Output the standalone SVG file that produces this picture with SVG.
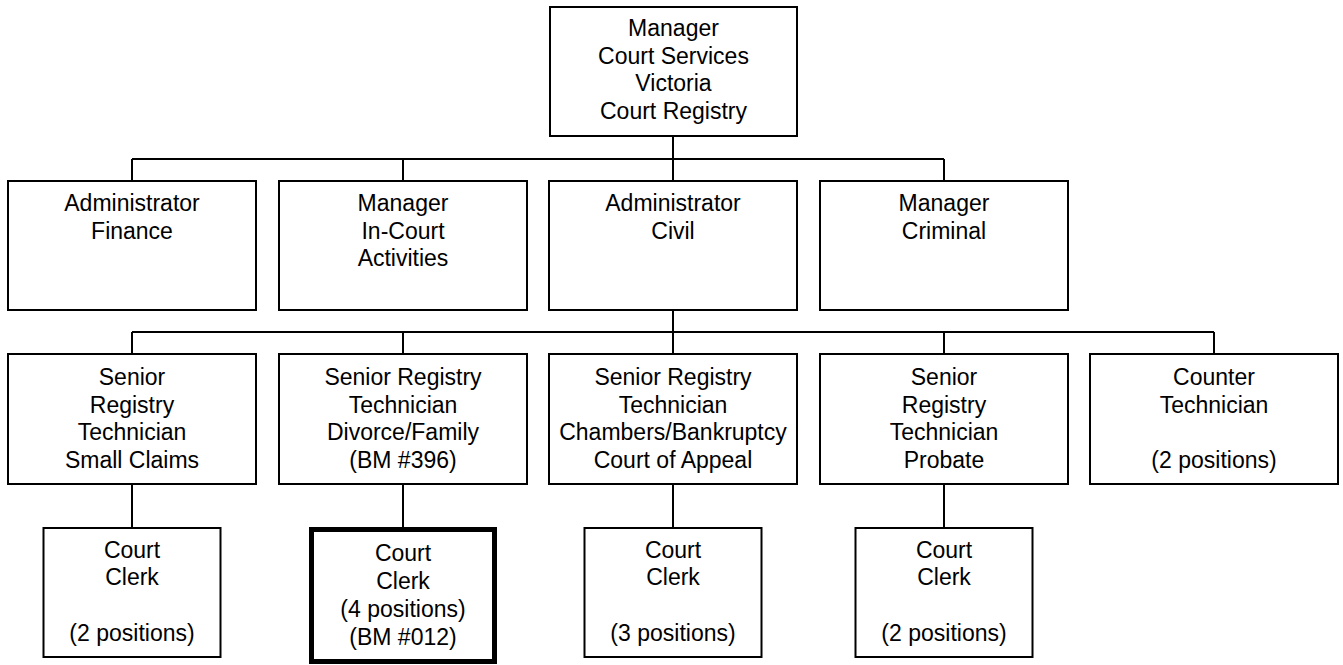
<svg xmlns="http://www.w3.org/2000/svg" width="1343" height="665" viewBox="0 0 1343 665">
  <style>
    .box { fill: #ffffff; stroke: #000000; stroke-width: 2; }
    .bold { fill: #ffffff; stroke: #000000; stroke-width: 5; }
    .lbl { font-family: "Liberation Sans", Arial, sans-serif; font-size: 23px; fill: #000000; text-anchor: middle; }
    .wire { fill: none; stroke: #000000; stroke-width: 2; }
  </style>
  <rect width="1343" height="665" fill="#ffffff"/>

  <!-- reporting lines -->
  <g id="connectors">
    <path class="wire" d="M673 136V159M132 159H944M132 159V181M403 159V181M673 159V181M944 159V181"/>
    <path class="wire" d="M673 310V332M132 332H1214M132 332V354M403 332V354M673 332V354M944 332V354M1214 332V354"/>
    <path class="wire" d="M132 484V528M403 484V528M673 484V528M944 484V528"/>
  </g>

  <!-- top -->
  <g id="manager-court-services">
    <rect class="box" x="550" y="7" width="247" height="129"/>
    <text class="lbl" x="673.5" y="36">Manager</text>
    <text class="lbl" x="673.5" y="63.7">Court Services</text>
    <text class="lbl" x="673.5" y="91.4">Victoria</text>
    <text class="lbl" x="673.5" y="119">Court Registry</text>
  </g>

  <!-- second tier -->
  <g id="administrator-finance">
    <rect class="box" x="8" y="181" width="248" height="129"/>
    <text class="lbl" x="132" y="211">Administrator</text>
    <text class="lbl" x="132" y="238.7">Finance</text>
  </g>
  <g id="manager-in-court">
    <rect class="box" x="279" y="181" width="248" height="129"/>
    <text class="lbl" x="403" y="211">Manager</text>
    <text class="lbl" x="403" y="238.7">In-Court</text>
    <text class="lbl" x="403" y="266.4">Activities</text>
  </g>
  <g id="administrator-civil">
    <rect class="box" x="549" y="181" width="248" height="129"/>
    <text class="lbl" x="673" y="211">Administrator</text>
    <text class="lbl" x="673" y="238.7">Civil</text>
  </g>
  <g id="manager-criminal">
    <rect class="box" x="820" y="181" width="248" height="129"/>
    <text class="lbl" x="944" y="211">Manager</text>
    <text class="lbl" x="944" y="238.7">Criminal</text>
  </g>

  <!-- third tier -->
  <g id="srt-small-claims">
    <rect class="box" x="8" y="354" width="248" height="130"/>
    <text class="lbl" x="132" y="385">Senior</text>
    <text class="lbl" x="132" y="412.7">Registry</text>
    <text class="lbl" x="132" y="440.4">Technician</text>
    <text class="lbl" x="132" y="468">Small Claims</text>
  </g>
  <g id="srt-divorce-family">
    <rect class="box" x="279" y="354" width="248" height="130"/>
    <text class="lbl" x="403" y="385">Senior Registry</text>
    <text class="lbl" x="403" y="412.7">Technician</text>
    <text class="lbl" x="403" y="440.4">Divorce/Family</text>
    <text class="lbl" x="403" y="468">(BM #396)</text>
  </g>
  <g id="srt-chambers">
    <rect class="box" x="549" y="354" width="248" height="130"/>
    <text class="lbl" x="673" y="385">Senior Registry</text>
    <text class="lbl" x="673" y="412.7">Technician</text>
    <text class="lbl" x="673" y="440.4">Chambers/Bankruptcy</text>
    <text class="lbl" x="673" y="468">Court of Appeal</text>
  </g>
  <g id="srt-probate">
    <rect class="box" x="820" y="354" width="248" height="130"/>
    <text class="lbl" x="944" y="385">Senior</text>
    <text class="lbl" x="944" y="412.7">Registry</text>
    <text class="lbl" x="944" y="440.4">Technician</text>
    <text class="lbl" x="944" y="468">Probate</text>
  </g>
  <g id="counter-technician">
    <rect class="box" x="1090" y="354" width="248" height="130"/>
    <text class="lbl" x="1214" y="385">Counter</text>
    <text class="lbl" x="1214" y="412.7">Technician</text>
    <text class="lbl" x="1214" y="468">(2 positions)</text>
  </g>

  <!-- clerks -->
  <g id="clerk-small-claims">
    <rect class="box" x="43.5" y="528" width="177" height="129"/>
    <text class="lbl" x="132" y="557.7">Court</text>
    <text class="lbl" x="132" y="585.4">Clerk</text>
    <text class="lbl" x="132" y="640.7">(2 positions)</text>
  </g>
  <g id="clerk-divorce-family">
    <rect class="bold" x="311.5" y="529.5" width="183" height="132"/>
    <text class="lbl" x="403" y="561">Court</text>
    <text class="lbl" x="403" y="589">Clerk</text>
    <text class="lbl" x="403" y="617">(4 positions)</text>
    <text class="lbl" x="403" y="645">(BM #012)</text>
  </g>
  <g id="clerk-chambers">
    <rect class="box" x="584.5" y="528" width="177" height="129"/>
    <text class="lbl" x="673" y="557.7">Court</text>
    <text class="lbl" x="673" y="585.4">Clerk</text>
    <text class="lbl" x="673" y="640.7">(3 positions)</text>
  </g>
  <g id="clerk-probate">
    <rect class="box" x="855.5" y="528" width="177" height="129"/>
    <text class="lbl" x="944" y="557.7">Court</text>
    <text class="lbl" x="944" y="585.4">Clerk</text>
    <text class="lbl" x="944" y="640.7">(2 positions)</text>
  </g>
</svg>
